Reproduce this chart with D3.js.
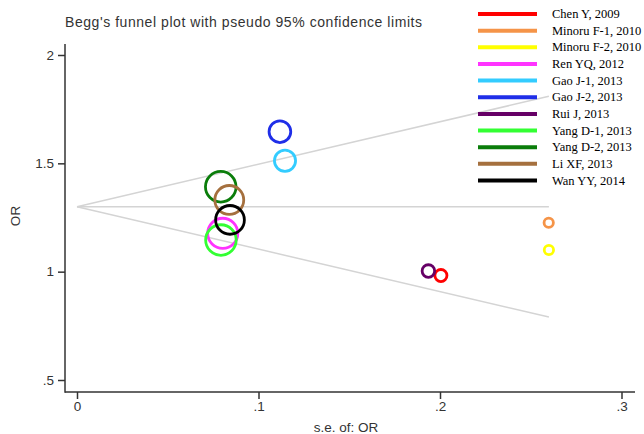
<!DOCTYPE html>
<html><head><meta charset="utf-8">
<script src="https://cdn.jsdelivr.net/npm/d3@7"></script>
<style>body{margin:0;background:#fff;}svg{display:block;}</style>
</head><body><svg id="c" width="644" height="434"></svg>
<script>
const studies = ["Chen Y, 2009","Minoru F-1, 2010","Minoru F-2, 2010","Ren YQ, 2012","Gao J-1, 2013","Gao J-2, 2013","Rui J, 2013","Yang D-1, 2013","Yang D-2, 2013","Li XF, 2013","Wan YY, 2014"];
const seValues = [0.2005,0.2599,0.2600,0.0803,0.1146,0.1118,0.1936,0.0793,0.0792,0.0839,0.0843];
const orValues = [0.982,1.226,1.100,1.177,1.512,1.646,1.003,1.146,1.392,1.331,1.239];
const colors = ["#ff0000","#f59448","#ffff00","#ff33ff","#33ccff","#1f2ee8","#660066","#33ff33","#0a7d0a","#a5703e","#000000"];
const pooledOR = 1.30;
const yTicks = [0.5,1,1.5,2];
const xTicks = [0,0.1,0.2,0.3];
const title = "Begg's funnel plot with pseudo 95% confidence limits";

const svg = d3.select("#c");
const x = d3.scaleLinear().domain([0,0.3]).range([77,621.5]);
const y = d3.scaleLinear().domain([0.5,2]).range([380,55]);
const fmt = v => v===0 ? "0" : (Number.isInteger(v) ? String(v) : String(v).replace(/^0/,""));

// title
svg.append("text").attr("x",65).attr("y",27).attr("font-family","Liberation Sans, Arial, sans-serif")
  .attr("font-size",14).attr("textLength",357).attr("lengthAdjust","spacing").attr("fill","#333").text(title);

// funnel lines
const maxSE = d3.max(seValues);
const lineC = "#d4d4d4";
[[pooledOR, pooledOR],[pooledOR, pooledOR+1.96*maxSE],[pooledOR, pooledOR-1.96*maxSE]].forEach(([a,b])=>{
  svg.append("line").attr("x1",x(0)).attr("y1",y(a)).attr("x2",x(maxSE)).attr("y2",y(b))
    .attr("stroke",lineC).attr("stroke-width",1.5);
});

// axes
const axC = "#333";
const gy = svg.append("g").attr("transform","translate(65,0)")
  .call(d3.axisLeft(y).tickValues(yTicks).tickFormat(fmt).tickSize(7).tickPadding(4));
const gx = svg.append("g").attr("transform","translate(0,392)")
  .call(d3.axisBottom(x).tickValues(xTicks).tickFormat(fmt).tickSize(7).tickPadding(2));
[gx,gy].forEach(g=>{
  g.select(".domain").remove();
  g.selectAll("line").attr("stroke",axC).attr("stroke-width",1.5);
  g.selectAll("text").attr("font-family","Liberation Sans, Arial, sans-serif").attr("font-size",13.5).attr("fill","#333");
});
svg.append("line").attr("x1",65).attr("x2",65).attr("y1",44).attr("y2",392.75).attr("stroke",axC).attr("stroke-width",1.5);
svg.append("line").attr("x1",65).attr("x2",635).attr("y1",392).attr("y2",392).attr("stroke",axC).attr("stroke-width",1.5);

svg.append("text").attr("transform","translate(20,216) rotate(-90)").attr("text-anchor","middle")
  .attr("font-family","Liberation Sans, Arial, sans-serif").attr("font-size",13.5).attr("fill","#333").text("OR");
svg.append("text").attr("x",346).attr("y",432).attr("text-anchor","middle")
  .attr("font-family","Liberation Sans, Arial, sans-serif").attr("font-size",13.5).attr("fill","#333").text("s.e. of: OR");

// markers: area proportional to weight 1/se^2
const weights = seValues.map(s=>1/(s*s));
const r = d3.scaleSqrt().domain([0,d3.max(weights)]).range([0,15.3]);
svg.append("g").selectAll("circle").data(studies).join("circle")
  .attr("cx",(d,i)=>x(seValues[i])).attr("cy",(d,i)=>y(orValues[i]))
  .attr("r",(d,i)=>r(weights[i])).attr("fill","none")
  .attr("stroke",(d,i)=>colors[i]).attr("stroke-width",2.8);

// legend
const lg = svg.append("g");
studies.forEach((s,i)=>{
  const yy = 14 + i*16.65;
  lg.append("line").attr("x1",478).attr("x2",537).attr("y1",yy).attr("y2",yy)
    .attr("stroke",colors[i]).attr("stroke-width",4);
  lg.append("text").attr("x",552).attr("y",yy+4).attr("font-family","Liberation Serif, Times New Roman, serif")
    .attr("font-size",12.5).attr("fill","#000").text(s);
});
</script></body></html>
